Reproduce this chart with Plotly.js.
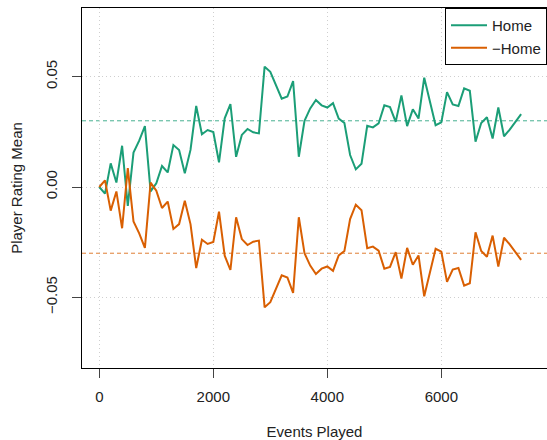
<!DOCTYPE html>
<html>
<head>
<meta charset="utf-8">
<script src="https://cdn.plot.ly/plotly-3.0.1.min.js"></script>
<style>html,body{margin:0;padding:0;background:#fff;overflow:hidden}</style>
</head>
<body>
<div id="chart" style="width:547px;height:440px"></div>
<script>
// Events played (x)
const eventsPlayed = [0,100,200,300,400,500,600,700,800,900,
  1000,1100,1200,1300,1400,1500,1600,1700,1800,1900,
  2000,2100,2200,2300,2400,2500,2600,2700,2800,2900,
  3000,3100,3200,3300,3400,3500,3600,3700,3800,3900,
  4000,4100,4200,4300,4400,4500,4600,4700,4800,4900,
  5000,5100,5200,5300,5400,5500,5600,5700,5800,5900,
  6000,6100,6200,6300,6400,6500,6600,6700,6800,6900,
  7000,7100,7200,7300,7400];

// Home player rating mean
const homeMean = [0.000,-0.003,0.0107,0.002,0.0187,-0.0086,0.0156,0.021,0.0276,-0.002,
  0.0017,0.0095,0.0066,0.019,0.0168,0.0062,0.0168,0.0367,0.0239,0.0258,
  0.0249,0.0112,0.0311,0.0376,0.0137,0.0236,0.0263,0.0248,0.0243,0.0545,
  0.0522,0.046,0.040,0.041,0.048,0.0137,0.030,0.0356,0.0394,0.037,
  0.036,0.038,0.031,0.029,0.0145,0.008,0.0105,0.0277,0.027,0.0288,
  0.037,0.0362,0.0295,0.0415,0.0276,0.0352,0.031,0.0495,0.039,0.028,
  0.0293,0.043,0.0374,0.0367,0.0447,0.0436,0.0205,0.029,0.0316,0.022,
  0.036,0.023,0.026,0.0296,0.033];

// -Home player rating mean
const negHomeMean = [0.000,0.003,-0.0107,-0.002,-0.0187,0.0086,-0.0156,-0.021,-0.0276,0.002,
  -0.0017,-0.0095,-0.0066,-0.019,-0.0168,-0.0062,-0.0168,-0.0367,-0.0239,-0.0258,
  -0.0249,-0.0112,-0.0311,-0.0376,-0.0137,-0.0236,-0.0263,-0.0248,-0.0243,-0.0545,
  -0.0522,-0.046,-0.040,-0.041,-0.048,-0.0137,-0.030,-0.0356,-0.0394,-0.037,
  -0.036,-0.038,-0.031,-0.029,-0.0145,-0.008,-0.0105,-0.0277,-0.027,-0.0288,
  -0.037,-0.0362,-0.0295,-0.0415,-0.0276,-0.0352,-0.031,-0.0495,-0.039,-0.028,
  -0.0293,-0.043,-0.0374,-0.0367,-0.0447,-0.0436,-0.0205,-0.029,-0.0316,-0.022,
  -0.036,-0.023,-0.026,-0.0296,-0.033];

// reference levels
const refLevels = [0.03, -0.03];
const seriesNames = ["Home", "\u2212Home"];

// ticks
const xTickVals = [0, 2000, 4000, 6000];
const xTickText = ["0", "2000", "4000", "6000"];
const yTickVals = [-0.05, 0, 0.05];
const yTickText = ["\u22120.05", "0.00", "0.05"];

const GREEN = "#1B9E77", ORANGE = "#D95F02";
const FONT = "Liberation Sans, Arial, Helvetica, sans-serif";

const traces = [
  {x: eventsPlayed, y: homeMean, name: seriesNames[0], type: "scatter", mode: "lines",
   line: {color: GREEN, width: 2}, hoverinfo: "skip"},
  {x: eventsPlayed, y: negHomeMean, name: seriesNames[1], type: "scatter", mode: "lines",
   line: {color: ORANGE, width: 2}, hoverinfo: "skip"}
];

const axisCommon = {
  showline: true, linecolor: "#000", linewidth: 1,
  ticks: "outside", ticklen: 9, tickwidth: 1, tickcolor: "#444",
  showgrid: true, gridcolor: "#cfcfcf", gridwidth: 1, griddash: "1px,3px",
  zeroline: false, tickmode: "array",
  tickfont: {family: FONT, size: 15, color: "#222"}
};

const layout = {
  width: 547, height: 440,
  margin: {l: 82, r: 0, t: 8, b: 72, pad: 0},
  paper_bgcolor: "#fff", plot_bgcolor: "#fff",
  font: {family: FONT, size: 15, color: "#222"},
  xaxis: Object.assign({}, axisCommon, {
    range: [-303.5, 7854], tickvals: xTickVals, ticktext: xTickText,
    mirror: true, ticklabelstandoff: 6,
    title: {text: "Events Played", font: {family: FONT, size: 15, color: "#222"}, standoff: 24}
  }),
  yaxis: Object.assign({}, axisCommon, {
    range: [-0.082, 0.0811], tickvals: yTickVals, ticktext: yTickText,
    tickangle: -90, ticklabelstandoff: 9,
    title: {text: "Player Rating Mean", font: {family: FONT, size: 15, color: "#222"}, standoff: 16}
  }),
  showlegend: true,
  legend: {
    x: 1, xanchor: "right", y: 1, yanchor: "top",
    bgcolor: "#fff", bordercolor: "#000", borderwidth: 1,
    font: {family: FONT, size: 15, color: "#222"},
    itemwidth: 36, tracegroupgap: 0
  },
  shapes: [
    {type: "line", xref: "paper", x0: 0, x1: 1, yref: "y", y0: refLevels[0], y1: refLevels[0],
     line: {color: GREEN, width: 1, dash: "4px,3px"}, opacity: 0.8, layer: "below"},
    {type: "line", xref: "paper", x0: 0, x1: 1, yref: "y", y0: refLevels[1], y1: refLevels[1],
     line: {color: ORANGE, width: 1, dash: "4px,3px"}, opacity: 0.8, layer: "below"}
  ]
};

Plotly.newPlot("chart", traces, layout, {staticPlot: true, displayModeBar: false});
</script>
</body>
</html>
